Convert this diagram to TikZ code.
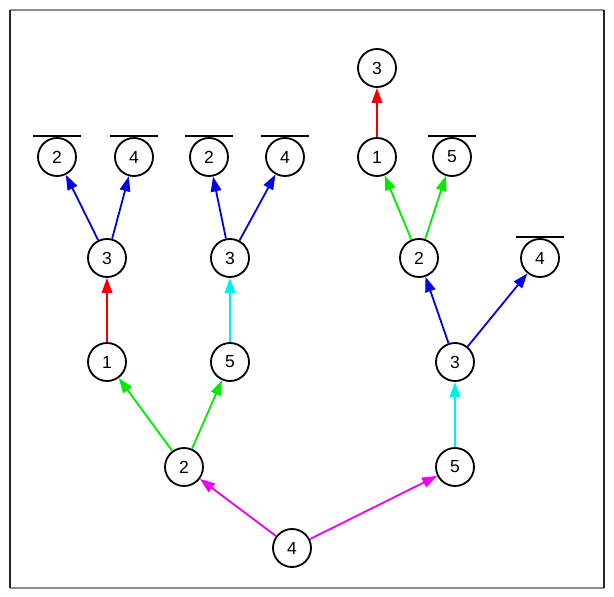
\documentclass[tikz,border=0pt]{standalone}
\usepackage{fontspec}
\setmainfont{Liberation Sans}
\usetikzlibrary{arrows.meta}
\definecolor{cgreen}{RGB}{0,235,0}
\definecolor{ccyan}{RGB}{0,240,240}
\definecolor{cmag}{RGB}{240,0,240}
\definecolor{cred}{RGB}{240,0,0}
\definecolor{cblue}{RGB}{0,0,230}
\begin{document}
\begin{tikzpicture}[x=1pt,y=-1pt,
  vnode/.style={circle,draw=black,line width=1.8pt,minimum size=38pt,inner sep=0pt,font=\fontsize{17.5}{17.5}\selectfont},
  edge/.style={line width=1.8pt,-{Triangle[length=15pt,width=10.5pt]}},
  bar/.style={line width=1.8pt,black}]
\useasboundingbox (0,0) rectangle (614,597);
\draw[line width=1.4pt,gray!90] (10,10) -- (604,10);
\draw[line width=1.4pt,gray!90] (10,588) -- (604,588);
\draw[line width=1.1pt,black!85] (10,10) -- (10,588);
\draw[line width=1.1pt,black!85] (604,10) -- (604,588);

\node[vnode] (r) at (292,548) {4};
\node[vnode] (a) at (184,467) {2};
\node[vnode] (b) at (455,467) {5};
\node[vnode] (a1) at (107,362) {1};
\node[vnode] (a5) at (230,362) {5};
\node[vnode] (b3) at (455,362) {3};
\node[vnode] (a13) at (107,258) {3};
\node[vnode] (a53) at (230,258) {3};
\node[vnode] (b32) at (419,258) {2};
\node[vnode] (b34) at (540,258) {4};
\node[vnode] (p1) at (57,157) {2};
\node[vnode] (p2) at (134,157) {4};
\node[vnode] (p3) at (209,157) {2};
\node[vnode] (p4) at (285,157) {4};
\node[vnode] (q1) at (377,157) {1};
\node[vnode] (q2) at (452,157) {5};
\node[vnode] (t) at (377,68) {3};

\foreach \n in {p1,p2,p3,p4,q2,b34}
  \draw[bar] ([xshift=-24pt,yshift=1pt]\n.north) -- ([xshift=24pt,yshift=1pt]\n.north);

\draw[edge,cmag] (r) -- (a);
\draw[edge,cmag] (r) -- (b);
\draw[edge,cgreen] (a) -- (a1);
\draw[edge,cgreen] (a) -- (a5);
\draw[edge,cred] (a1) -- (a13);
\draw[edge,ccyan] (a5) -- (a53);
\draw[edge,cblue] (a13) -- (p1);
\draw[edge,cblue] (a13) -- (p2);
\draw[edge,cblue] (a53) -- (p3);
\draw[edge,cblue] (a53) -- (p4);
\draw[edge,ccyan] (b) -- (b3);
\draw[edge,cblue] (b3) -- (b32);
\draw[edge,cblue] (b3) -- (b34);
\draw[edge,cgreen] (b32) -- (q1);
\draw[edge,cgreen] (b32) -- (q2);
\draw[edge,cred] (q1) -- (t);
\end{tikzpicture}
\end{document}
